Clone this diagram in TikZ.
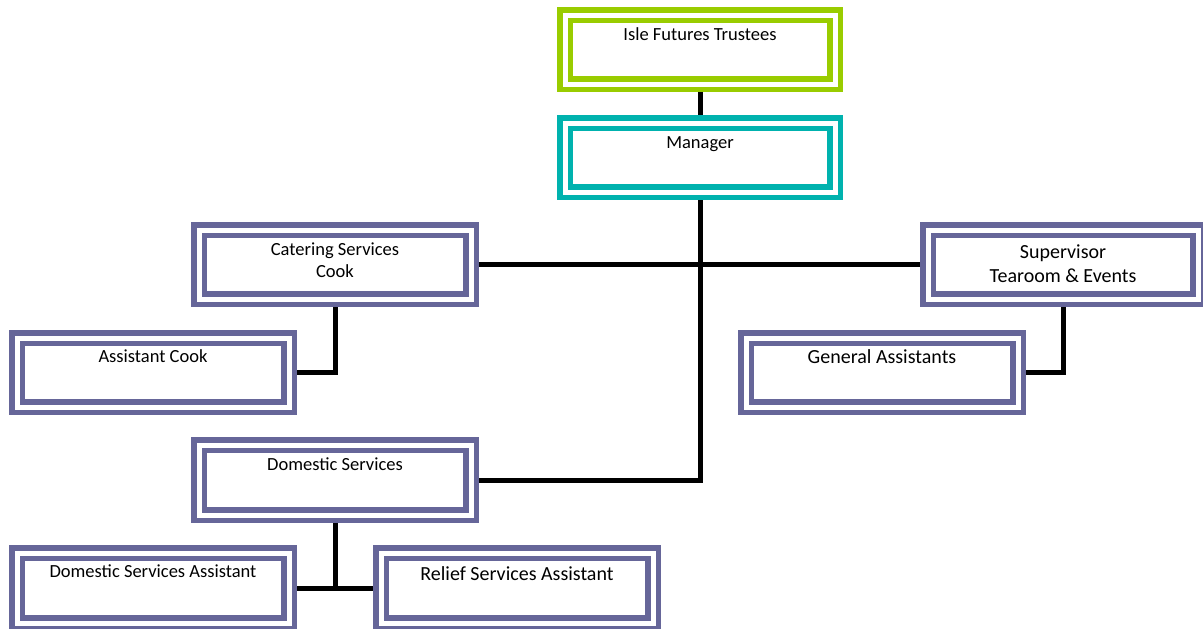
\documentclass[tikz,border=0pt]{standalone}
\usepackage{fontspec}
\setmainfont{Carlito}
\usetikzlibrary{backgrounds}
\definecolor{lgreen}{HTML}{99CC00}
\definecolor{teal2}{HTML}{00B2AE}
\definecolor{slate}{HTML}{666699}
\newcommand{\boxtext}[4]{\parbox[c][#2][t]{#1}{\centering\rule{0pt}{#3}#4}}
\newcommand{\smallf}{\fontsize{18.5}{22.5}\selectfont}
\newcommand{\largef}{\fontsize{20}{24}\selectfont}
\tikzset{
  orgbox/.style={rectangle, draw=#1, double=white, line width=5.5pt, double distance=5pt,
    fill=white, inner sep=0pt, outer sep=0pt},
  link/.style={line width=5pt, black}
}
\begin{document}
\begin{tikzpicture}[x=1pt,y=-1pt]
\useasboundingbox (0,0) rectangle (1203,629);
\node[orgbox=lgreen] (trustees) at (700,49.5) {\boxtext{270pt}{69pt}{25pt}{\smallf Isle Futures Trustees}};
\node[orgbox=teal2] (manager) at (700,157.5) {\boxtext{270pt}{69pt}{25pt}{\smallf Manager}};
\node[orgbox=slate] (catering) at (335,264.5) {\boxtext{272pt}{69pt}{25pt}{\smallf Catering Services\\Cook}};
\node[orgbox=slate] (asstcook) at (153,372.5) {\boxtext{272pt}{69pt}{24pt}{\smallf Assistant Cook}};
\node[orgbox=slate] (supervisor) at (1063,264.5) {\boxtext{270pt}{69pt}{28pt}{\largef Supervisor\\Tearoom \& Events}};
\node[orgbox=slate] (genasst) at (882,372.5) {\boxtext{272pt}{69pt}{25pt}{\largef General Assistants}};
\node[orgbox=slate] (domestic) at (335,480) {\boxtext{272pt}{70pt}{25pt}{\smallf Domestic Services}};
\node[orgbox=slate] (dsa) at (153,588) {\boxtext{272pt}{70pt}{24pt}{\smallf Domestic Services Assistant}};
\node[orgbox=slate] (relief) at (517,588) {\boxtext{272pt}{70pt}{27pt}{\largef Relief Services Assistant}};
\begin{scope}[on background layer]
\draw[link] (trustees.south) -- (manager.north);
\draw[link] (manager.south) -- (manager.south |- domestic.east) -- (domestic.east);
\draw[link] (catering.east) -- (supervisor.west);
\draw[link] (catering.south) -- (catering.south |- asstcook.east) -- (asstcook.east);
\draw[link] (supervisor.south) -- (supervisor.south |- genasst.east) -- (genasst.east);
\draw[link] (domestic.south) -- (domestic.south |- dsa.east);
\draw[link] (dsa.east) -- (relief.west);
\end{scope}
\end{tikzpicture}
\end{document}
